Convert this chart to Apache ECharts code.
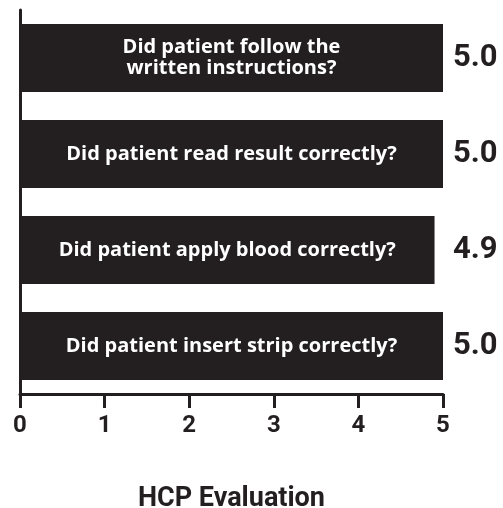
<!DOCTYPE html>
<html>
<head>
<meta charset="utf-8">
<script src="https://cdn.jsdelivr.net/npm/echarts@6/dist/echarts.min.js"></script>
<style>html,body{margin:0;padding:0;background:#fff}#figure0{width:503px;height:508px}</style>
</head>
<body>
<div id="figure0"></div>
<script>
var questions = [
    'Did patient insert strip correctly?',
    'Did patient apply blood correctly?',
    'Did patient read result correctly?',
    'Did patient follow the\nwritten instructions?'
];
var scores = [5.0, 4.9, 5.0, 5.0];
var maxScore = [5, 5, 5, 5];
var ticks = [0, 1, 2, 3, 4, 5];

var ink = '#231f20';
var figure0 = echarts.init(document.getElementById('figure0'));
var option = {
    animation: false,
    grid: {left: 20, right: 60, top: 10, bottom: 114, outerBoundsMode: 'none', containLabel: false},
    xAxis: {
        type: 'value',
        min: ticks[0],
        max: ticks[ticks.length - 1],
        interval: 1,
        name: 'HCP Evaluation',
        nameLocation: 'middle',
        nameGap: 92,
        nameTextStyle: {color: ink, fontFamily: 'Roboto', fontWeight: 'bold', fontSize: 27},
        axisLine: {show: true, lineStyle: {color: ink, width: 3}},
        axisTick: {show: true, length: 14, lineStyle: {color: ink, width: 3}},
        axisLabel: {color: ink, fontFamily: 'Roboto', fontWeight: 'bold', fontSize: 24, margin: 20},
        splitLine: {show: false}
    },
    yAxis: {
        type: 'category',
        data: questions,
        axisLine: {show: true, lineStyle: {color: ink, width: 3}},
        axisTick: {show: false},
        axisLabel: {show: false}
    },
    series: [{
        type: 'bar',
        data: scores,
        barCategoryGap: '29%',
        itemStyle: {color: ink},
        label: {
            show: true,
            position: 'inside',
            color: '#fff',
            fontFamily: 'Open Sans',
            fontWeight: 'bold',
            fontSize: 20,
            lineHeight: 21,
            formatter: function (params) { return questions[params.dataIndex]; }
        }
    }, {
        type: 'bar',
        data: maxScore,
        barGap: '-100%',
        barCategoryGap: '29%',
        itemStyle: {color: 'rgba(0,0,0,0)'},
        silent: true,
        label: {
            show: true,
            position: 'right',
            distance: 10,
            color: ink,
            fontFamily: 'Roboto',
            fontWeight: 'bold',
            fontSize: 31,
            formatter: function (params) { return scores[params.dataIndex].toFixed(1); }
        }
    }]
};
figure0.setOption(option);
</script>
</body>
</html>
